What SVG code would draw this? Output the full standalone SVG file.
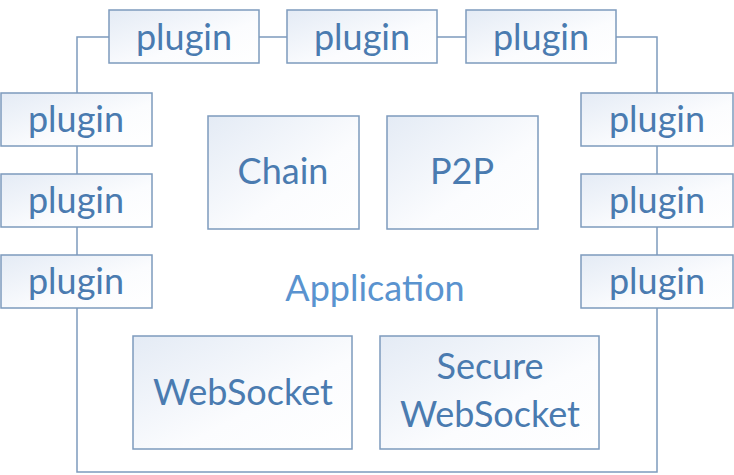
<svg xmlns="http://www.w3.org/2000/svg" width="734" height="475" viewBox="0 0 734 475">
<defs>
<linearGradient id="g" x1="0" y1="0" x2="1" y2="1">
<stop offset="0" stop-color="#e4ebf5"/>
<stop offset="0.6" stop-color="#fbfcfe"/>
<stop offset="1" stop-color="#ffffff"/>
</linearGradient>
</defs>
<style>
.b{fill:url(#g);stroke:#7d9bbd;stroke-width:1.5}
.t{font-family:Lato,"Open Sans",sans-serif;font-size:36px;fill:#4a7bb0;text-anchor:middle}
.a{fill:#5a93cf}
.c{fill:none;stroke:#7d9bbd;stroke-width:1.5}
</style>
<rect width="734" height="475" fill="#ffffff"/>
<g id="connectors">
<rect class="c" x="77" y="37" width="580" height="435"/>
</g>
<text class="t a" x="375" y="301">Application</text>
<g id="plugin-top-1"><rect class="b" x="109" y="10" width="150" height="53"/><text class="t" x="184" y="50">plugin</text></g>
<g id="plugin-top-2"><rect class="b" x="287" y="10" width="150" height="53"/><text class="t" x="362" y="50">plugin</text></g>
<g id="plugin-top-3"><rect class="b" x="466" y="10" width="150" height="53"/><text class="t" x="541" y="50">plugin</text></g>
<g id="plugin-left-1"><rect class="b" x="1" y="93" width="151" height="53"/><text class="t" x="76" y="132">plugin</text></g>
<g id="plugin-left-2"><rect class="b" x="1" y="174" width="151" height="53"/><text class="t" x="76" y="213">plugin</text></g>
<g id="plugin-left-3"><rect class="b" x="1" y="255" width="151" height="53"/><text class="t" x="76" y="294">plugin</text></g>
<g id="plugin-right-1"><rect class="b" x="581" y="93" width="152" height="53"/><text class="t" x="657" y="132">plugin</text></g>
<g id="plugin-right-2"><rect class="b" x="581" y="174" width="152" height="53"/><text class="t" x="657" y="213">plugin</text></g>
<g id="plugin-right-3"><rect class="b" x="581" y="255" width="152" height="53"/><text class="t" x="657" y="294">plugin</text></g>
<g id="chain"><rect class="b" x="208" y="116" width="151" height="113"/><text class="t" x="283" y="184">Chain</text></g>
<g id="p2p"><rect class="b" x="387" y="116" width="151" height="113"/><text class="t" x="462" y="184">P2P</text></g>
<g id="websocket"><rect class="b" x="133" y="336" width="219" height="113"/><text class="t" x="243" y="405">WebSocket</text></g>
<g id="secure-websocket"><rect class="b" x="380" y="336" width="219" height="113"/><text class="t" x="490" y="379">Secure</text><text class="t" x="490" y="427">WebSocket</text></g>
</svg>
